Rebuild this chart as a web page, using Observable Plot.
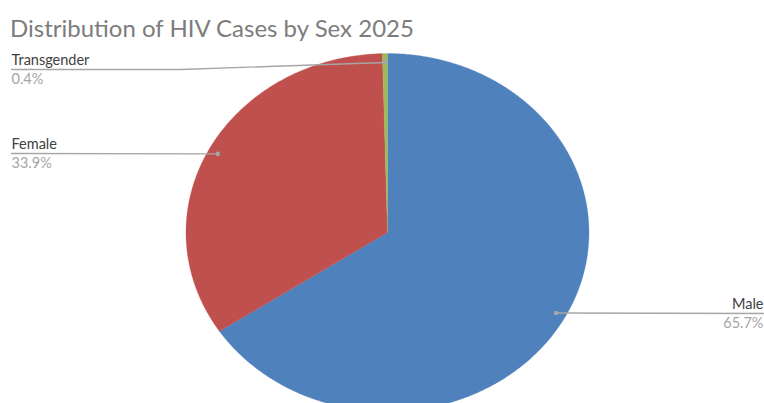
<!DOCTYPE html>
<html><head><meta charset="utf-8">
<script src="https://cdn.jsdelivr.net/npm/d3@7"></script>
<script src="https://cdn.jsdelivr.net/npm/@observablehq/plot@0.6"></script>
<style>
html,body{margin:0;padding:0;background:#fff;overflow:hidden}
#wrap{position:relative;width:764px;height:403px;overflow:hidden}
#title{height:44px;position:relative;font-family:Lato,sans-serif;font-size:24px;color:#7c7c7c}
#title span{position:absolute;left:10px;top:13px;white-space:nowrap}
#chart svg{overflow:hidden;display:block}
</style></head><body>
<div id="wrap"><div id="title"><span>Distribution of HIV Cases by Sex 2025</span></div><div id="chart"></div></div>
<script>
// ---- data ----
const categories = ["Male", "Female", "Transgender"];
const shares = [65.7, 33.9, 0.4];
const percentLabels = ["65.7%", "33.9%", "0.4%"];
const colors = ["#4F81BD", "#C0504D", "#9BBB59"];

// ---- layout (pixels in the svg, title div is 44px tall) ----
const TITLE_H = 44;
const W = 764, H = 403 - TITLE_H;
const cx = 387, cy = 232 - TITLE_H, rx = 201.5, ry = 179;
const labelX = [763, 11, 11];
const lineY = [313, 153, 69].map(v => v - TITLE_H);
const lineEndX = [764, 11, 11];
const elbowX = [null, null, 180];
const anchors = ["end", "start", "start"];
const dotR = 0.95;

// pixel -> unit helpers (inverse of the scales below)
const ux = px => (px - cx) / rx;
const uy = py => (cy - py) / ry;

const rows = categories.map((c, i) => ({name: c, value: shares[i], pct: percentLabels[i], i}));
const arcs = d3.pie().sort(null).value(d => d.value)(rows);

// polygon vertices of each slice on the unit circle
const slicePts = [];
arcs.forEach(a => {
  const n = Math.max(2, Math.ceil((a.endAngle - a.startAngle) / 0.01));
  slicePts.push({name: a.data.name, x: 0, y: 0});
  for (let k = 0; k <= n; k++) {
    const t = a.startAngle + (a.endAngle - a.startAngle) * k / n;
    slicePts.push({name: a.data.name, x: Math.sin(t), y: Math.cos(t)});
  }
  slicePts.push({name: a.data.name, x: 0, y: 0});
});

// leader dots at mid angle
const dots = arcs.map(a => {
  const m = (a.startAngle + a.endAngle) / 2;
  return {name: a.data.name, x: dotR * Math.sin(m), y: dotR * Math.cos(m), i: a.data.i};
});

// leader lines
const leaders = [];
dots.forEach(d => {
  const i = d.i;
  leaders.push({name: d.name, x: ux(lineEndX[i]), y: uy(lineY[i])});
  if (elbowX[i] != null) leaders.push({name: d.name, x: ux(elbowX[i]), y: uy(lineY[i])});
  leaders.push({name: d.name, x: d.x, y: d.y});
});

const labels = rows.map(r => ({...r, x: ux(labelX[r.i]), yName: uy(lineY[r.i] - 4.5), yPct: uy(lineY[r.i] + 14), anchor: anchors[r.i]}));

const chart = Plot.plot({
  width: W, height: H, margin: 0,
  style: {fontFamily: "Lato, sans-serif", overflow: "hidden", background: "#fff"},
  x: {domain: [-1, 1], range: [cx - rx, cx + rx], axis: null},
  y: {domain: [-1, 1], range: [cy + ry, cy - ry], axis: null},
  color: {domain: categories, range: colors},
  marks: [
    Plot.line(slicePts, {x: "x", y: "y", z: "name", fill: "name", stroke: "name", strokeWidth: 0.3, curve: "linear"}),
    Plot.line(leaders, {x: "x", y: "y", z: "name", stroke: "#a6a6a6", strokeWidth: 1.4}),
    Plot.dot(dots, {x: "x", y: "y", r: 2.3, fill: "#a6a6a6"}),
    Plot.text(labels.filter(d => d.anchor === "start"), {x: "x", y: "yName", text: "name", textAnchor: "start", lineAnchor: "bottom", fontSize: 14.5, fill: "#404040"}),
    Plot.text(labels.filter(d => d.anchor === "start"), {x: "x", y: "yPct", text: "pct", textAnchor: "start", lineAnchor: "bottom", fontSize: 14.5, fill: "#a5a5a5"}),
    Plot.text(labels.filter(d => d.anchor === "end"), {x: "x", y: "yName", text: "name", textAnchor: "end", lineAnchor: "bottom", fontSize: 14.5, fill: "#404040"}),
    Plot.text(labels.filter(d => d.anchor === "end"), {x: "x", y: "yPct", text: "pct", textAnchor: "end", lineAnchor: "bottom", fontSize: 14.5, fill: "#a5a5a5"})
  ]
});
document.getElementById("chart").appendChild(chart);
</script>
</body></html>
